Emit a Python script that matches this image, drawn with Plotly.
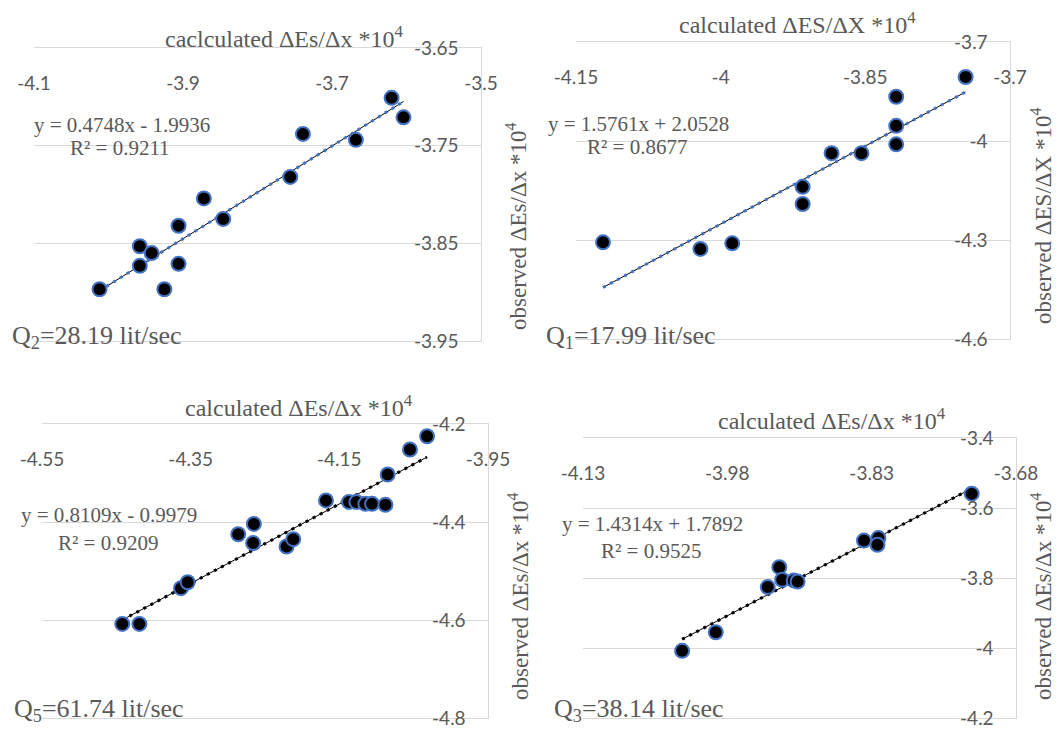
import plotly.graph_objects as go

W, H = 1057, 729

# ---------------- data ----------------
# Q2 = 28.19 lit/sec (top-left)
q2_calc = [-4.012, -3.958, -3.958, -3.942, -3.925, -3.906, -3.906, -3.872, -3.846, -3.756, -3.739, -3.668, -3.620, -3.604]
q2_obs = [-3.897, -3.853, -3.873, -3.860, -3.897, -3.832, -3.871, -3.804, -3.825, -3.782, -3.738, -3.744, -3.701, -3.721]
q2_fit = (0.4748, -1.9936)
q2_xticks = [-4.1, -3.9, -3.7, -3.5]
q2_xtext = ["-4.1", "-3.9", "-3.7", "-3.5"]
q2_yticks = [-3.95, -3.85, -3.75, -3.65]
q2_ytext = ["-3.95", "-3.85", "-3.75", "-3.65"]

# Q1 = 17.99 lit/sec (top-right)
q1_calc = [-4.122, -4.021, -3.988, -3.915, -3.915, -3.885, -3.854, -3.818, -3.818, -3.818, -3.746]
q1_obs = [-4.307, -4.327, -4.310, -4.139, -4.191, -4.037, -4.037, -3.866, -3.954, -4.010, -3.806]
q1_fit = (1.5761, 2.0528)
q1_xticks = [-4.15, -4.0, -3.85, -3.7]
q1_xtext = ["-4.15", "-4", "-3.85", "-3.7"]
q1_yticks = [-4.6, -4.3, -4.0, -3.7]
q1_ytext = ["-4.6", "-4.3", "-4", "-3.7"]

# Q5 = 61.74 lit/sec (bottom-left)
q5_calc = [-4.442, -4.419, -4.363, -4.354, -4.286, -4.265, -4.266, -4.221, -4.212, -4.168, -4.137, -4.127,
           -4.115, -4.106, -4.088, -4.085, -4.055, -4.032]
q5_obs = [-4.608, -4.608, -4.535, -4.523, -4.425, -4.404, -4.443, -4.450, -4.435, -4.356, -4.359, -4.359,
          -4.363, -4.363, -4.365, -4.303, -4.252, -4.225]
q5_fit = (0.8109, -0.9979)
q5_xticks = [-4.55, -4.35, -4.15, -3.95]
q5_xtext = ["-4.55", "-4.35", "-4.15", "-3.95"]
q5_yticks = [-4.8, -4.6, -4.4, -4.2]
q5_ytext = ["-4.8", "-4.6", "-4.4", "-4.2"]

# Q3 = 38.14 lit/sec (bottom-right)
q3_calc = [-4.027, -3.992, -3.938, -3.926, -3.923, -3.911, -3.907, -3.838, -3.823, -3.824, -3.726]
q3_obs = [-4.008, -3.955, -3.826, -3.769, -3.805, -3.807, -3.810, -3.693, -3.686, -3.705, -3.559]
q3_fit = (1.4314, 1.7892)
q3_xticks = [-4.13, -3.98, -3.83, -3.68]
q3_xtext = ["-4.13", "-3.98", "-3.83", "-3.68"]
q3_yticks = [-4.2, -4.0, -3.8, -3.6, -3.4]
q3_ytext = ["-4.2", "-4", "-3.8", "-3.6", "-3.4"]

# ---------------- styling ----------------
GRAY = "#595959"
GRID = "#D9D9D9"
BLUE = "#4472C4"
SERIF = "Liberation Serif"
SANS = "Lato"


def px(x):
    return x / W


def py(y):
    return 1 - y / H


panels = [
    dict(calc=q2_calc, obs=q2_obs, fit=q2_fit, xt=q2_xticks, xtt=q2_xtext, yt=q2_yticks, ytt=q2_ytext,
         box=(34, 48, 481, 341), dot=BLUE,
         title="caclculated ΔEs/Δx *10<sup>4</sup>", title_pos=(284, 37),
         ytitle="observed ΔEs/Δx *10<sup>4</sup>", ytitle_pos=(516, 226),
         eq1="y = 0.4748x - 1.9936", eq1_pos=(122, 125), eq2="R² = 0.9211", eq2_pos=(120, 148),
         q="Q<sub>2</sub>=28.19 lit/sec", q_pos=(10, 337)),
    dict(calc=q1_calc, obs=q1_obs, fit=q1_fit, xt=q1_xticks, xtt=q1_xtext, yt=q1_yticks, ytt=q1_ytext,
         box=(576, 42, 1010, 339), dot=BLUE,
         title="calculated ΔES/ΔX *10<sup>4</sup>", title_pos=(797, 23),
         ytitle="observed ΔES/ΔX *10<sup>4</sup>", ytitle_pos=(1041, 216),
         eq1="y = 1.5761x + 2.0528", eq1_pos=(638, 124), eq2="R² = 0.8677", eq2_pos=(637, 147),
         q="Q<sub>1</sub>=17.99 lit/sec", q_pos=(544, 337)),
    dict(calc=q5_calc, obs=q5_obs, fit=q5_fit, xt=q5_xticks, xtt=q5_xtext, yt=q5_yticks, ytt=q5_ytext,
         box=(42, 424, 488, 718), dot="black",
         title="calculated ΔEs/Δx *10<sup>4</sup>", title_pos=(299, 406),
         ytitle="observed ΔEs/Δx *10<sup>4</sup>", ytitle_pos=(518, 596),
         eq1="y = 0.8109x - 0.9979", eq1_pos=(109, 515), eq2="R² = 0.9209", eq2_pos=(108, 543),
         q="Q<sub>5</sub>=61.74 lit/sec", q_pos=(12, 710)),
    dict(calc=q3_calc, obs=q3_obs, fit=q3_fit, xt=q3_xticks, xtt=q3_xtext, yt=q3_yticks, ytt=q3_ytext,
         box=(583, 438, 1016, 718), dot="black",
         title="calculated ΔEs/Δx *10<sup>4</sup>", title_pos=(832, 419),
         ytitle="observed ΔEs/Δx *10<sup>4</sup>", ytitle_pos=(1041, 596),
         eq1="y = 1.4314x + 1.7892", eq1_pos=(652, 524), eq2="R² = 0.9525", eq2_pos=(651, 551),
         q="Q<sub>3</sub>=38.14 lit/sec", q_pos=(552, 710)),
]

fig = go.Figure()
annotations = []
layout = dict(
    width=W, height=H, margin=dict(l=0, r=0, t=0, b=0, autoexpand=False),
    paper_bgcolor="white", plot_bgcolor="white", showlegend=False,
)

for i, p in enumerate(panels, start=1):
    sfx = "" if i == 1 else str(i)
    xa, ya = "x" + sfx, "y" + sfx
    l, t, r, b = p["box"]
    slope, icpt = p["fit"]
    x0, x1 = min(p["calc"]), max(p["calc"])
    tx = [x0, x1]
    ty = [slope * v + icpt for v in tx]

    fig.add_trace(go.Scatter(x=tx, y=ty, xaxis=xa, yaxis=ya, mode="lines",
                             line=dict(color="black", width=1), hoverinfo="skip"))
    fig.add_trace(go.Scatter(x=tx, y=ty, xaxis=xa, yaxis=ya, mode="lines",
                             line=dict(color=p["dot"], width=3, dash="3px,5px"), hoverinfo="skip"))
    fig.add_trace(go.Scatter(x=p["calc"], y=p["obs"], xaxis=xa, yaxis=ya, mode="markers",
                             marker=dict(size=14, color="black", line=dict(color=BLUE, width=2))))

    layout["xaxis" + sfx] = dict(
        domain=[px(l), px(r)], range=[p["xt"][0], p["xt"][-1]],
        anchor=ya, side="top", automargin=False,
        tickmode="array", tickvals=p["xt"], ticktext=p["xtt"],
        showgrid=False, zeroline=False, showline=True, mirror=True,
        linecolor=GRID, linewidth=1.3, ticks="",
        ticklabelposition="inside", ticklabelstandoff=29, ticklabeloverflow="allow",
        tickfont=dict(family=SANS, size=19, color=GRAY),
    )
    layout["yaxis" + sfx] = dict(
        domain=[py(b), py(t)], range=[p["yt"][0], p["yt"][-1]],
        anchor=xa, side="right", automargin=False,
        tickmode="array", tickvals=p["yt"], ticktext=p["ytt"],
        showgrid=True, gridcolor=GRID, gridwidth=1.3, zeroline=False,
        showline=True, linecolor=GRID, linewidth=1.3, ticks="",
        ticklabelposition="inside", ticklabelstandoff=23, ticklabeloverflow="allow",
        tickfont=dict(family=SANS, size=19, color=GRAY),
    )

    annotations += [
        dict(text=p["title"], x=px(p["title_pos"][0]), y=py(p["title_pos"][1]), xref="paper", yref="paper",
             showarrow=False, xanchor="center", yanchor="middle",
             font=dict(family=SERIF, size=24, color=GRAY)),
        dict(text=p["ytitle"], x=px(p["ytitle_pos"][0]), y=py(p["ytitle_pos"][1]), xref="paper", yref="paper",
             showarrow=False, xanchor="center", yanchor="middle", textangle=-90,
             font=dict(family=SERIF, size=23, color=GRAY)),
        dict(text=p["eq1"], x=px(p["eq1_pos"][0]), y=py(p["eq1_pos"][1]), xref="paper", yref="paper",
             showarrow=False, xanchor="center", yanchor="middle",
             font=dict(family=SERIF, size=21, color=GRAY)),
        dict(text=p["eq2"], x=px(p["eq2_pos"][0]), y=py(p["eq2_pos"][1]), xref="paper", yref="paper",
             showarrow=False, xanchor="center", yanchor="middle",
             font=dict(family=SERIF, size=21, color=GRAY)),
        dict(text=p["q"], x=px(p["q_pos"][0]), y=py(p["q_pos"][1]), xref="paper", yref="paper",
             showarrow=False, xanchor="left", yanchor="middle",
             font=dict(family=SERIF, size=26, color=GRAY)),
    ]

layout["annotations"] = annotations
fig.update_layout(**layout)
fig.write_html("out.html", config={"displayModeBar": False},
               post_script="document.body.style.margin='0';document.body.style.overflow='hidden';")
